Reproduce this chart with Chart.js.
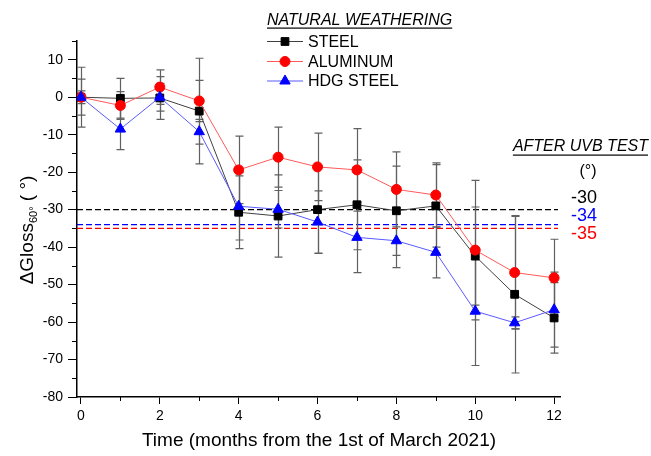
<!DOCTYPE html>
<html>
<head>
<meta charset="utf-8">
<script src="https://cdn.jsdelivr.net/npm/chart.js@4"></script>
<style>
  html, body { margin: 0; padding: 0; background: #fff; }
  #wrap { width: 651px; height: 456px; }
</style>
</head>
<body>
<div id="wrap"><canvas id="glossChart" width="651" height="456"></canvas></div>
<script>
// meses desde 1 de março de 2021
const months = [0, 1, 2, 3, 4, 5, 6, 7, 8, 9, 10, 11, 12];

// valores (ΔGloss 60°)
const steel    = [0, -0.3, -0.2, -3.7, -30.7, -31.7, -30, -28.7, -30.3, -29, -42.4, -52.6, -58.9];
const aluminum = [0, -2.2, 2.7, -1, -19.4, -16, -18.6, -19.4, -24.6, -26.1, -40.8, -46.8, -48.2];
const hdgSteel = [0, -8.5, 0, -9.2, -29.1, -29.9, -33.3, -37.4, -38.3, -41.4, -57.1, -60.2, -56.7];

// barras de erro (desvio simétrico)
const steelErr    = [8, 5.3, 5.7, 14.1, 9.7, 11, 11.7, 12, 11.9, 11, 13.1, 21, 9.4];
const aluminumErr = [1.7, 3.7, 4.6, 5.5, 9, 8, 9, 11, 10, 8.6, 18.6, 15, 10.3];
const hdgSteelErr = [4.8, 5.5, 3.7, 3.3, 9, 5, 8.3, 9.4, 7.2, 6.8, 14.5, 1.6, 10];

// resultado após teste UVB (linhas tracejadas)
const uvbLabels = ['STEEL', 'HDG STEEL', 'ALUMINUM'];
const uvbValues = [-30, -34, -35];

// ticks dos eixos
const xTicks = [0, 1, 2, 3, 4, 5, 6, 7, 8, 9, 10, 11, 12];
const xLabels = ['0', '', '2', '', '4', '', '6', '', '8', '', '10', '', '12'];
const yTicks = [-80, -75, -70, -65, -60, -55, -50, -45, -40, -35, -30, -25, -20, -15, -10, -5, 0, 5, 10, 15];
const yLabels = ['-80', '', '-70', '', '-60', '', '-50', '', '-40', '', '-30', '', '-20', '', '-10', '', '0', '', '10', ''];

const FONT = '"Liberation Sans", Arial, sans-serif';
const colSteel = '#000000', colAl = '#ff0000', colHdg = '#0000ff';
const lineSteel = '#404040', lineAl = '#ff5a5a', lineHdg = '#5a5aff';
const uvbColors = ['#000000', '#0000ff', '#ff0000'];

function pts(ys) { return months.map((m, i) => ({ x: m, y: ys[i] })); }

const errorBars = {
    id: 'errorBars',
    beforeDatasetsDraw(chart) {
        const ctx = chart.ctx, xs = chart.scales.x, ys = chart.scales.y;
        const sets = [[steel, steelErr], [aluminum, aluminumErr], [hdgSteel, hdgSteelErr]];
        ctx.save();
        ctx.strokeStyle = '#606060';
        ctx.lineWidth = 1.2;
        sets.forEach(([vals, errs]) => {
            months.forEach((m, i) => {
                const px = Math.round(xs.getPixelForValue(m)) + 0.5;
                const top = ys.getPixelForValue(vals[i] + errs[i]);
                const bot = ys.getPixelForValue(vals[i] - errs[i]);
                ctx.beginPath();
                ctx.moveTo(px, top); ctx.lineTo(px, bot);
                ctx.moveTo(px - 4, top); ctx.lineTo(px + 4, top);
                ctx.moveTo(px - 4, bot); ctx.lineTo(px + 4, bot);
                ctx.stroke();
            });
        });
        ctx.restore();
    }
};

const uvbLines = {
    id: 'uvbLines',
    beforeDatasetsDraw(chart) {
        const ctx = chart.ctx, a = chart.chartArea, ys = chart.scales.y;
        ctx.save();
        ctx.lineWidth = 1.3;
        ctx.setLineDash([6, 3]);
        uvbValues.forEach((v, i) => {
            const py = ys.getPixelForValue(v);
            ctx.strokeStyle = uvbColors[i];
            ctx.beginPath();
            ctx.moveTo(a.left, py); ctx.lineTo(a.right - 2, py);
            ctx.stroke();
        });
        ctx.restore();
    }
};

const decor = {
    id: 'decor',
    afterDraw(chart) {
        const ctx = chart.ctx, xs = chart.scales.x, ys = chart.scales.y, a = chart.chartArea;
        ctx.save();
        // ticks menores
        ctx.strokeStyle = '#000';
        ctx.lineWidth = 1;
        ctx.beginPath();
        xTicks.forEach((t, i) => {
            if (xLabels[i] === '') {
                const px = Math.round(xs.getPixelForValue(t)) + 0.5;
                ctx.moveTo(px, a.bottom); ctx.lineTo(px, a.bottom + 4);
            }
        });
        yTicks.forEach((t, i) => {
            if (yLabels[i] === '') {
                const py = Math.round(ys.getPixelForValue(t)) + 0.5;
                ctx.moveTo(a.left, py); ctx.lineTo(a.left - 5, py);
            }
        });
        ctx.stroke();

        // título eixo x
        ctx.fillStyle = '#000';
        ctx.font = '19px ' + FONT;
        ctx.textAlign = 'center';
        ctx.textBaseline = 'middle';
        ctx.fillText('Time (months from the 1st of March 2021)', 319, 441);

        // título eixo y com subscrito
        ctx.save();
        ctx.translate(27, 230);
        ctx.rotate(-Math.PI / 2);
        ctx.textAlign = 'left';
        ctx.textBaseline = 'alphabetic';
        const main = '\u0394Gloss', sub = '60\u00b0', tail = ' ( \u00b0)';
        ctx.font = '19px ' + FONT; const w1 = ctx.measureText(main).width;
        ctx.font = '11px ' + FONT; const w2 = ctx.measureText(sub).width;
        ctx.font = '19px ' + FONT; const w3 = ctx.measureText(tail).width;
        const x0 = -(w1 + w2 + w3) / 2;
        ctx.fillText(main, x0, 6);
        ctx.font = '11px ' + FONT; ctx.fillText(sub, x0 + w1, 10);
        ctx.font = '19px ' + FONT; ctx.fillText(tail, x0 + w1 + w2, 6);
        ctx.restore();

        // legenda
        ctx.font = 'italic 16px ' + FONT;
        ctx.textAlign = 'left';
        ctx.textBaseline = 'middle';
        const title = 'NATURAL WEATHERING';
        ctx.fillText(title, 267, 21);
        const tw = ctx.measureText(title).width;
        ctx.fillRect(267, 27.5, tw, 1.2);

        const entries = [
            ['STEEL', lineSteel, colSteel, 'rect', 5.5, 41.5],
            ['ALUMINUM', lineAl, colAl, 'circle', 5, 61.5],
            ['HDG STEEL', lineHdg, colHdg, 'triangle', 6, 81]
        ];
        entries.forEach(([label, lc, mc, style, r, y]) => {
            ctx.strokeStyle = lc;
            ctx.lineWidth = 1;
            ctx.beginPath();
            ctx.moveTo(267, y); ctx.lineTo(303, y);
            ctx.stroke();
            ctx.fillStyle = mc;
            ctx.strokeStyle = mc;
            Chart.helpers.drawPoint(ctx, { pointStyle: style, radius: r, borderWidth: 1 }, 285, y);
            ctx.fillStyle = '#000';
            ctx.font = '16px ' + FONT;
            ctx.fillText(label, 308, y + 1);
        });

        // anotação UVB à direita
        ctx.font = 'italic 16px ' + FONT;
        ctx.fillStyle = '#000';
        const t2 = 'AFTER UVB TEST';
        const tw2 = ctx.measureText(t2).width;
        ctx.fillText(t2, 648 - tw2, 147);
        ctx.fillRect(648 - tw2, 154.5, tw2, 1.2);
        ctx.font = '16px ' + FONT;
        ctx.textAlign = 'center';
        ctx.fillText('(\u00b0)', 588, 172);
        ctx.font = '18px ' + FONT;
        ctx.textAlign = 'left';
        const ly = [198, 216, 234];
        uvbValues.forEach((v, i) => {
            ctx.fillStyle = uvbColors[i];
            ctx.fillText(String(v), 571, ly[i]);
        });
        ctx.restore();
    }
};

function desenharGrafico() {
    const ctx = document.getElementById('glossChart').getContext('2d');
    new Chart(ctx, {
        type: 'line',
        data: {
            datasets: [
                {
                    label: 'STEEL',
                    data: pts(steel),
                    borderColor: lineSteel, borderWidth: 1,
                    pointStyle: 'rect', pointRadius: 5.5,
                    pointBackgroundColor: colSteel, pointBorderColor: colSteel,
                    order: 2
                },
                {
                    label: 'ALUMINUM',
                    data: pts(aluminum),
                    borderColor: lineAl, borderWidth: 1,
                    pointStyle: 'circle', pointRadius: 5,
                    pointBackgroundColor: colAl, pointBorderColor: colAl,
                    order: 1
                },
                {
                    label: 'HDG STEEL',
                    data: pts(hdgSteel),
                    borderColor: lineHdg, borderWidth: 1,
                    pointStyle: 'triangle', pointRadius: 6,
                    pointBackgroundColor: colHdg, pointBorderColor: colHdg,
                    order: 0
                }
            ]
        },
        options: {
            responsive: false,
            animation: false,
            layout: { padding: { top: 41, right: 91, bottom: 0, left: 0 } },
            plugins: { legend: { display: false }, tooltip: { enabled: false } },
            scales: {
                x: {
                    type: 'linear',
                    min: -0.1, max: 12.15,
                    afterBuildTicks: s => { s.ticks = xTicks.map(v => ({ value: v })); },
                    afterFit: s => { s.height = 59; },
                    ticks: {
                        color: '#000', font: { family: FONT, size: 14 }, padding: 4,
                        maxRotation: 0, autoSkip: false,
                        callback: (v, i) => xLabels[i]
                    },
                    grid: {
                        drawOnChartArea: false, tickLength: 7,
                        tickColor: c => (xLabels[c.index] === '' ? 'rgba(0,0,0,0)' : '#000')
                    },
                    border: { color: '#000', width: 1.5 }
                },
                y: {
                    min: -80, max: 15,
                    afterBuildTicks: s => { s.ticks = yTicks.map(v => ({ value: v })); },
                    afterFit: s => { s.width = 77; },
                    ticks: {
                        color: '#000', font: { family: FONT, size: 14 }, padding: 5,
                        autoSkip: false,
                        callback: (v, i) => yLabels[i]
                    },
                    grid: {
                        drawOnChartArea: false, tickLength: 9,
                        tickColor: c => (yLabels[c.index] === '' ? 'rgba(0,0,0,0)' : '#000')
                    },
                    border: { color: '#000', width: 1.5 }
                }
            }
        },
        plugins: [uvbLines, errorBars, decor]
    });
}

document.addEventListener('DOMContentLoaded', desenharGrafico);
</script>
</body>
</html>
